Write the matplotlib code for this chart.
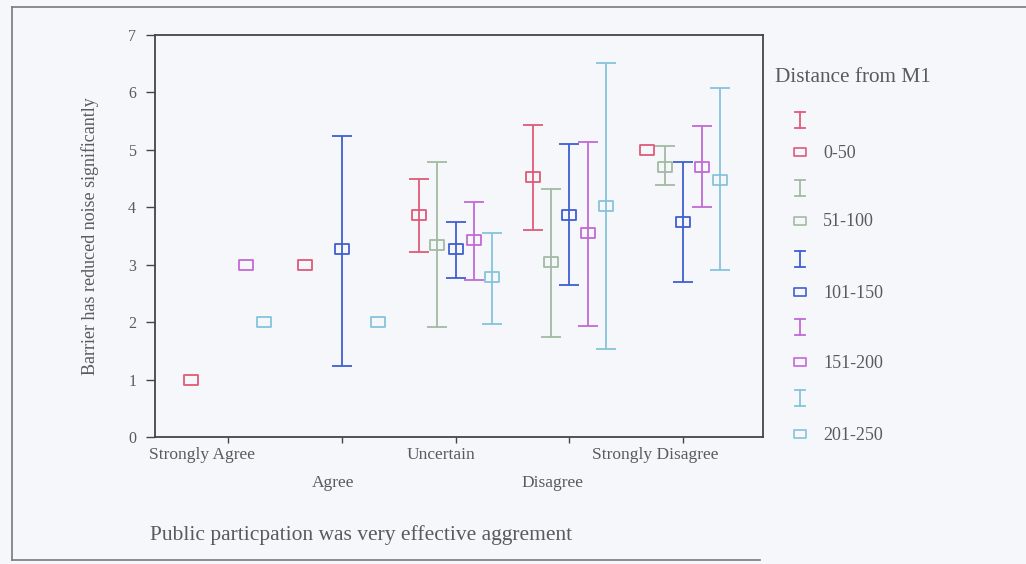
import numpy as np
import matplotlib
matplotlib.use("Agg")
import matplotlib.pyplot as plt
from matplotlib.path import Path
import matplotlib.transforms as mtransforms

plt.rcParams['font.family'] = ['Liberation Serif', 'DejaVu Serif']

categories = ['Strongly Agree', 'Agree', 'Uncertain', 'Disagree', 'Strongly Disagree']
series = ['0-50', '51-100', '101-150', '151-200', '201-250']
colors = ['#e05a78', '#a3bba3', '#3f5fd3', '#c16ad6', '#86c3da']
nan = np.nan

mean_0_50 = [1.00, 3.00, 3.87, 4.53, 5.00]
mean_51_100 = [nan, nan, 3.35, 3.05, 4.71]
mean_101_150 = [nan, 3.28, 3.28, 3.87, 3.75]
mean_151_200 = [3.00, nan, 3.43, 3.55, 4.71]
mean_201_250 = [2.00, 2.00, 2.78, 4.03, 4.47]

low_0_50 = [nan, nan, 3.23, 3.61, nan]
low_51_100 = [nan, nan, 1.92, 1.74, 4.39]
low_101_150 = [nan, 1.24, 2.77, 2.65, 2.70]
low_151_200 = [nan, nan, 2.73, 1.94, 4.01]
low_201_250 = [nan, nan, 1.97, 1.54, 2.91]

high_0_50 = [nan, nan, 4.50, 5.43, nan]
high_51_100 = [nan, nan, 4.78, 4.32, 5.06]
high_101_150 = [nan, 5.24, 3.75, 5.10, 4.78]
high_151_200 = [nan, nan, 4.10, 5.13, 5.41]
high_201_250 = [nan, nan, 3.55, 6.51, 6.07]

means = [mean_0_50, mean_51_100, mean_101_150, mean_151_200, mean_201_250]
lows = [low_0_50, low_51_100, low_101_150, low_151_200, low_201_250]
highs = [high_0_50, high_51_100, high_101_150, high_151_200, high_201_250]

yticks = [0, 1, 2, 3, 4, 5, 6, 7]

BG = '#f5f7fa'
TXT = '#5a5a5a'
SP = '#454545'

fig = plt.figure(figsize=(10.26, 5.64), dpi=100, facecolor=BG)
ax = fig.add_axes([155/1026, 1-437/564, (763-155)/1026, (437-35)/564])
ax.set_facecolor(BG)

rect = Path([(-1.4, -1.0), (1.4, -1.0), (1.4, 1.0), (-1.4, 1.0), (-1.4, -1.0)],
            [Path.MOVETO, Path.LINETO, Path.LINETO, Path.LINETO, Path.CLOSEPOLY])

xc = np.arange(1, len(categories) + 1)
step = 0.16
for i, (m, lo, hi, c) in enumerate(zip(means, lows, highs, colors)):
    m = np.array(m, float); lo = np.array(lo, float); hi = np.array(hi, float)
    x = xc + (i - 2) * step
    ok = ~np.isnan(lo)
    if ok.any():
        ax.errorbar(x[ok], m[ok], yerr=[m[ok] - lo[ok], hi[ok] - m[ok]], fmt='none',
                    ecolor=c, elinewidth=1.3, capsize=7, capthick=1.3)
    okm = ~np.isnan(m)
    ax.plot(x[okm], m[okm], linestyle='none', marker=rect, markersize=10.5,
            mfc='none', mec=c, mew=1.3)

ax.set_xlim(0.36, 5.70)
ax.set_ylim(0, 7)
ax.set_yticks(yticks)
ax.set_yticklabels([str(v) for v in yticks])
ax.set_xticks(xc)
labels = [lab if k % 2 == 0 else '\n' + lab for k, lab in enumerate(categories)]
ax.set_xticklabels(labels, linespacing=1.95)

ax.tick_params(axis='y', length=6.5, width=1.0, color=SP, labelsize=11.5, labelcolor=TXT, pad=7)
ax.tick_params(axis='x', length=4, width=1.0, color=SP, labelsize=12.5, labelcolor=TXT, pad=3.5)
label_shift_px = [-26, -9, -15, -17, -28]
for lab, dx in zip(ax.get_xticklabels(), label_shift_px):
    lab.set_transform(lab.get_transform() + mtransforms.ScaledTranslation(dx/100, 0, fig.dpi_scale_trans))

for s in ax.spines.values():
    s.set_color(SP)
    s.set_linewidth(1.3)

ax.set_ylabel('Barrier has reduced noise significantly', fontsize=13, color=TXT)
ax.yaxis.set_label_coords((99 - 155) / 608, 0.5)

fig.text(150/1026, 1 - 535/564, 'Public particpation was very effective aggrement',
         ha='left', va='center', fontsize=15.5, color=TXT)

# legend drawn in pixel coordinates
lax = fig.add_axes([0, 0, 1, 1], facecolor='none')
lax.set_xlim(0, 1026)
lax.set_ylim(564, 0)
lax.axis('off')
lax.text(775, 77, 'Distance from M1', ha='left', va='center', fontsize=15.3, color=TXT)
bar_y = [120, 188, 259, 327, 398]
box_y = [152, 221, 292, 362, 434]
for name, c, by, my in zip(series, colors, bar_y, box_y):
    lax.plot([800, 800], [by - 8, by + 8], color=c, lw=1.3)
    lax.plot([795, 805], [by - 8, by - 8], color=c, lw=1.3)
    lax.plot([795, 805], [by + 8, by + 8], color=c, lw=1.3)
    lax.plot([800], [my], linestyle='none', marker=rect, markersize=9,
             mfc='none', mec=c, mew=1.2)
    lax.text(823, my + 1, name, ha='left', va='center', fontsize=13, color=TXT)

# outer frame of the scanned figure
lax.plot([12, 1026], [7, 7], color='#7a7a7a', lw=1.2)
lax.plot([12, 12], [7, 560], color='#7a7a7a', lw=1.2)
lax.plot([12, 760], [560, 560], color='#7a7a7a', lw=1.2)

fig.savefig('out.png', dpi=100, facecolor=BG)
